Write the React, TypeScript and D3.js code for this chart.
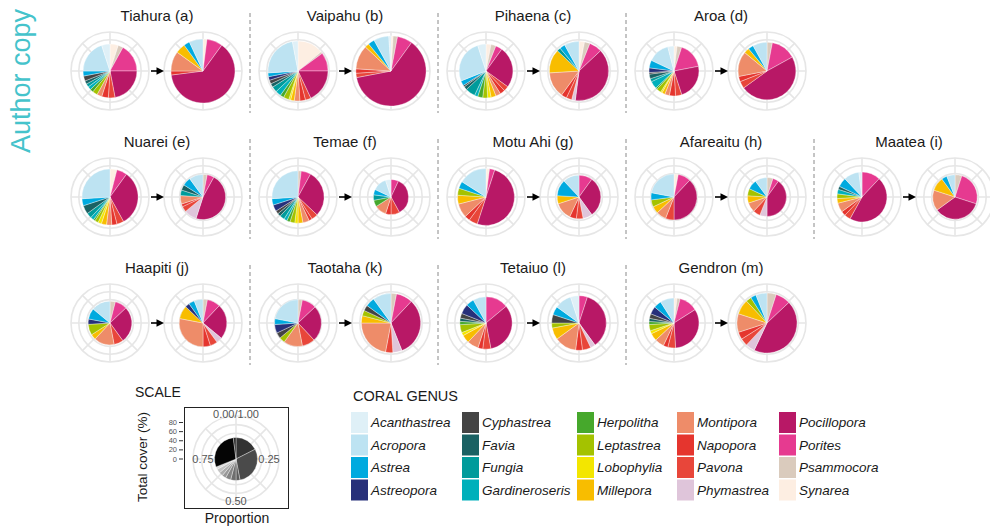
import React from 'react';
import * as d3 from 'd3';

// ---------- DATA ----------
const genera = [
  'Acanthastrea', 'Acropora', 'Astrea', 'Astreopora', 'Cyphastrea',
  'Favia', 'Fungia', 'Gardineroseris', 'Herpolitha', 'Leptastrea',
  'Lobophylia', 'Millepora', 'Montipora', 'Napopora', 'Pavona',
  'Phymastrea', 'Pocillopora', 'Porites', 'Psammocora', 'Synarea',
];
const genusColors = [
  '#dff0f7', '#bde3f2', '#00aadf', '#27307a', '#444444',
  '#1a6163', '#009b9b', '#00b0bb', '#46a82c', '#a4c200',
  '#f3e600', '#f8bd00', '#ee8c69', '#e5352e', '#e8463a',
  '#dfc5da', '#b81866', '#e63a90', '#dacbbd', '#fdeee2',
];

const siteNames = [
  'Tiahura (a)', 'Vaipahu (b)', 'Pihaena (c)', 'Aroa (d)',
  'Nuarei (e)', 'Temae (f)', 'Motu Ahi (g)', 'Afareaitu (h)', 'Maatea (i)',
  'Haapiti (j)', 'Taotaha (k)', 'Tetaiuo (l)', 'Gendron (m)',
];
const siteRow = [0, 0, 0, 0, 1, 1, 1, 1, 1, 2, 2, 2, 2];
const siteCol = [0, 1, 2, 3, 0, 1, 2, 3, 4, 0, 1, 2, 3];

// total cover (%) before / after
const coverBefore = [69, 77, 69, 64, 72, 67, 73, 59, 64, 56, 60, 67, 64];
const coverAfter = [82, 90, 76, 74, 58, 45, 56, 50, 57, 61, 76, 70, 77];

// proportions (%) in legend (genus) order
const tiahuraBefore = [5, 20, 3, 0, 3, 2, 2, 2, 2, 3, 0, 0, 3, 4, 4, 0, 22, 17, 3, 5];
const tiahuraAfter = [0, 7, 3, 0, 0, 0, 0, 0, 0, 0, 0, 5, 10, 2, 0, 0, 63, 8, 0, 2];
const vaipahuBefore = [3, 23, 2, 2, 2, 2, 3, 3, 2, 3, 1, 2, 3, 3, 3, 0, 18, 10, 1, 14];
const vaipahuAfter = [1, 7, 3, 0, 0, 0, 0, 0, 0, 0, 0, 2, 11, 2, 2, 0, 62, 7, 2, 1];
const pihaenaBefore = [5, 26, 3, 0, 1, 2, 6, 2, 3, 3, 2, 3, 3, 3, 3, 0, 25, 4, 3, 3];
const pihaenaAfter = [0, 8, 3, 0, 0, 0, 2, 0, 0, 0, 0, 13, 14, 3, 3, 2, 39, 7, 3, 3];
const aroaBefore = [4, 14, 5, 3, 1, 3, 2, 5, 1, 3, 1, 2, 3, 4, 4, 0, 23, 17, 3, 2];
const aroaAfter = [0, 8, 3, 0, 0, 0, 0, 0, 0, 0, 0, 3, 14, 3, 4, 0, 48, 14, 3, 0];
const nuareiBefore = [0, 26, 4, 0, 0, 5, 3, 2, 1, 2, 2, 3, 3, 3, 4, 0, 32, 6, 0, 4];
const nuareiAfter = [0, 10, 6, 0, 0, 4, 4, 0, 0, 0, 0, 0, 6, 2, 4, 9, 47, 5, 3, 0];
const temaeBefore = [0, 26, 4, 4, 2, 2, 3, 2, 2, 3, 2, 3, 4, 2, 4, 0, 29, 6, 2, 0];
const temaeAfter = [5, 13, 5, 0, 0, 0, 5, 0, 6, 0, 0, 0, 11, 5, 8, 0, 35, 7, 0, 0];
const motuAhiBefore = [0, 16, 4, 0, 0, 0, 0, 0, 0, 4, 0, 5, 8, 3, 5, 0, 50, 3, 0, 2];
const motuAhiAfter = [0, 12, 12, 0, 0, 0, 0, 0, 0, 0, 0, 6, 13, 5, 5, 7, 30, 10, 0, 0];
const afareaituBefore = [0, 22, 5, 0, 0, 0, 0, 0, 0, 5, 0, 5, 7, 0, 6, 0, 38, 9, 0, 3];
const afareaituAfter = [0, 10, 8, 0, 0, 0, 0, 0, 0, 6, 0, 6, 8, 0, 6, 6, 40, 5, 5, 0];
const maateaBefore = [2, 10, 6, 0, 0, 2, 0, 3, 0, 3, 0, 3, 6, 3, 4, 0, 46, 12, 0, 0];
const maateaAfter = [0, 6, 4, 0, 0, 0, 0, 0, 0, 0, 0, 10, 15, 0, 0, 0, 35, 25, 5, 0];
const haapitiBefore = [0, 14, 8, 4, 0, 0, 0, 0, 0, 8, 0, 4, 15, 0, 7, 0, 27, 9, 4, 0];
const haapitiAfter = [0, 6, 4, 3, 0, 0, 0, 0, 0, 0, 0, 9, 28, 5, 5, 4, 24, 9, 3, 0];
const taotahaBefore = [0, 22, 4, 6, 4, 0, 0, 0, 0, 4, 0, 0, 13, 0, 9, 0, 25, 10, 3, 0];
const taotahaAfter = [0, 10, 5, 0, 3, 0, 0, 0, 0, 3, 0, 4, 22, 0, 4, 5, 32, 9, 3, 0];
const tetaiuoBefore = [0, 8, 5, 6, 3, 2, 0, 0, 2, 5, 2, 5, 7, 3, 5, 0, 33, 14, 0, 0];
const tetaiuoAfter = [5, 10, 5, 0, 5, 0, 0, 0, 0, 3, 0, 7, 13, 4, 5, 3, 35, 5, 0, 0];
const gendronBefore = [0, 9, 5, 5, 3, 2, 0, 0, 2, 4, 2, 5, 6, 3, 5, 0, 33, 12, 2, 2];
const gendronAfter = [0, 6, 3, 0, 0, 0, 0, 0, 0, 3, 0, 8, 10, 4, 4, 5, 44, 8, 5, 0];

const propsBefore = [tiahuraBefore, vaipahuBefore, pihaenaBefore, aroaBefore, nuareiBefore,
  temaeBefore, motuAhiBefore, afareaituBefore, maateaBefore, haapitiBefore, taotahaBefore,
  tetaiuoBefore, gendronBefore];
const propsAfter = [tiahuraAfter, vaipahuAfter, pihaenaAfter, aroaAfter, nuareiAfter,
  temaeAfter, motuAhiAfter, afareaituAfter, maateaAfter, haapitiAfter, taotahaAfter,
  tetaiuoAfter, gendronAfter];

// scale (legend) pie
const scaleProps = [17.5, 29.5, 3, 4, 4, 3, 3, 3, 2, 29, 2];
const scaleGreys = ['#333333', '#4a4a4a', '#5c5c5c', '#6e6e6e', '#858585', '#999999', '#adadad', '#c4c4c4', '#dcdcdc', '#050505', '#262626'];
const coverTicks = [0, 20, 40, 60, 80];
const thetaLabels = ['0.00/1.00', '0.25', '0.50', '0.75'];

// ---------- LAYOUT ----------
const W = 990, H = 532;
const rowCy = [71, 197, 323];
const colX0 = 62, colW = 188;
const rScale = d3.scaleLinear().domain([0, 100]).range([0, 39]);
const gridBreaks = [20, 40, 60, 80, 100];
const FONT = '"Liberation Sans", Arial, Helvetica, sans-serif';
const NARROW = '"Liberation Sans Narrow", "Arial Narrow", "Liberation Sans", sans-serif';

function Grid({ cx, cy, radii }: { cx: number; cy: number; radii: number[] }) {
  const rmax = radii[radii.length - 1];
  return (
    <g>
      {radii.map((r, i) => (
        <circle key={i} cx={cx} cy={cy} r={r} fill="none" stroke="#e6e6e6" strokeWidth={1.6} />
      ))}
      {d3.range(8).map((k) => {
        const a = (k * Math.PI) / 4;
        return (
          <line key={k} x1={cx} y1={cy} x2={cx + rmax * Math.sin(a)} y2={cy - rmax * Math.cos(a)}
            stroke="#e6e6e6" strokeWidth={1.6} />
        );
      })}
    </g>
  );
}

function Pie({ cx, cy, r, values, colors }: { cx: number; cy: number; r: number; values: number[]; colors: string[] }) {
  const data = values.map((v, i) => ({ v, c: colors[i] })).filter((d) => d.v > 0);
  const arcs = d3.pie<{ v: number; c: string }>().value((d) => d.v).sort(null)(data);
  const arc = d3.arc<d3.PieArcDatum<{ v: number; c: string }>>().innerRadius(0).outerRadius(r);
  return (
    <g transform={`translate(${cx},${cy})`}>
      {arcs.map((a, i) => (
        <path key={i} d={arc(a) || ''} fill={a.data.c} stroke="#ffffff" strokeWidth={0.35} />
      ))}
    </g>
  );
}

function sitePie(cx: number, cy: number, cover: number, props: number[], key: string) {
  // clockwise from top: reverse of legend order
  const vals = props.slice().reverse();
  const cols = genusColors.slice().reverse();
  return <Pie key={key} cx={cx} cy={cy} r={rScale(cover)} values={vals} colors={cols} />;
}

export default function App() {
  const gridRadii = gridBreaks.map((b) => rScale(b));
  const legendColX = [351, 462, 577, 677, 779];
  const legendRowY = [412, 434.5, 457, 479.5];

  // scale panel
  const sCx = 236, sCy = 459;
  const sRadii = d3.range(1, 6).map((k) => (43 * k) / 5);
  const sTick = d3.scaleLinear().domain([0, 80]).range([sCy, 422.5]);

  return (
    <svg width={W} height={H} style={{ position: 'absolute', left: 0, top: 0, background: '#fff' }}
      fontFamily={FONT}>
      <rect width={W} height={H} fill="#ffffff" />
      {/* Author copy */}
      <text transform="translate(30,81) rotate(-90)" textAnchor="middle" fontSize={27}
        fill="#45c3cb">Author copy</text>

      {/* dividers */}
      {rowCy.map((cy, ri) => {
        const n = siteRow.filter((r) => r === ri).length;
        return d3.range(1, n).map((c) => (
          <line key={`d${ri}-${c}`} x1={colX0 + c * colW} x2={colX0 + c * colW} y1={cy - 58} y2={cy + 42}
            stroke="#8a8a8a" strokeWidth={1} strokeDasharray="4,3" />
        ));
      })}

      {siteNames.map((name, i) => {
        const x0 = colX0 + siteCol[i] * colW;
        const cy = rowCy[siteRow[i]];
        const lx = x0 + 48, rx = x0 + 141;
        return (
          <g key={name}>
            <text x={x0 + 95} y={cy - 50} textAnchor="middle" fontSize={15} fill="#1a1a1a">{name}</text>
            <Grid cx={lx} cy={cy} radii={gridRadii} />
            <Grid cx={rx} cy={cy} radii={gridRadii} />
            {sitePie(lx, cy, coverBefore[i], propsBefore[i], 'b')}
            {sitePie(rx, cy, coverAfter[i], propsAfter[i], 'a')}
            <line x1={x0 + 89} x2={x0 + 96} y1={cy} y2={cy} stroke="#000" strokeWidth={1.6} />
            <path d={`M${x0 + 94.5},${cy - 3.8}L${x0 + 102},${cy}L${x0 + 94.5},${cy + 3.8}Z`} fill="#000" />
          </g>
        );
      })}

      {/* SCALE */}
      <text x={135} y={397} fontSize={14} fill="#1a1a1a">SCALE</text>
      <text transform="translate(147,457) rotate(-90)" textAnchor="middle" fontSize={13.5} fill="#1a1a1a">Total cover (%)</text>
      <text x={237} y={523} textAnchor="middle" fontSize={14} fill="#1a1a1a">Proportion</text>
      {coverTicks.map((t) => (
        <g key={t}>
          <text x={177} y={sTick(t) + 2.5} textAnchor="end" fontSize={7.5} fill="#555">{t}</text>
          <line x1={179} x2={183} y1={sTick(t)} y2={sTick(t)} stroke="#333" strokeWidth={1} />
        </g>
      ))}
      <Grid cx={sCx} cy={sCy} radii={sRadii} />
      <Pie cx={sCx} cy={sCy} r={21.5} values={scaleProps} colors={scaleGreys} />
      <text x={sCx} y={418} textAnchor="middle" fontSize={11} fill="#555">{thetaLabels[0]}</text>
      <text x={sCx + 33} y={463} textAnchor="middle" fontSize={11} fill="#555">{thetaLabels[1]}</text>
      <text x={sCx} y={505} textAnchor="middle" fontSize={11} fill="#555">{thetaLabels[2]}</text>
      <text x={sCx - 33} y={463} textAnchor="middle" fontSize={11} fill="#555">{thetaLabels[3]}</text>
      <rect x={184.5} y={407.5} width={104} height={101} fill="none" stroke="#222" strokeWidth={1} />

      {/* LEGEND */}
      <text x={353} y={401} fontSize={14.5} fill="#1a1a1a" fontFamily={NARROW}>CORAL GENUS</text>
      {genera.map((g, i) => {
        const col = Math.floor(i / 4), row = i % 4;
        const x = legendColX[col], y = legendRowY[row];
        return (
          <g key={g}>
            <rect x={x} y={y} width={17} height={21} fill={genusColors[i]} />
            <text x={x + 20} y={y + 15} fontSize={13.5} fontStyle="italic" fill="#1a1a1a" fontFamily={NARROW}>{g}</text>
          </g>
        );
      })}
    </svg>
  );
}
